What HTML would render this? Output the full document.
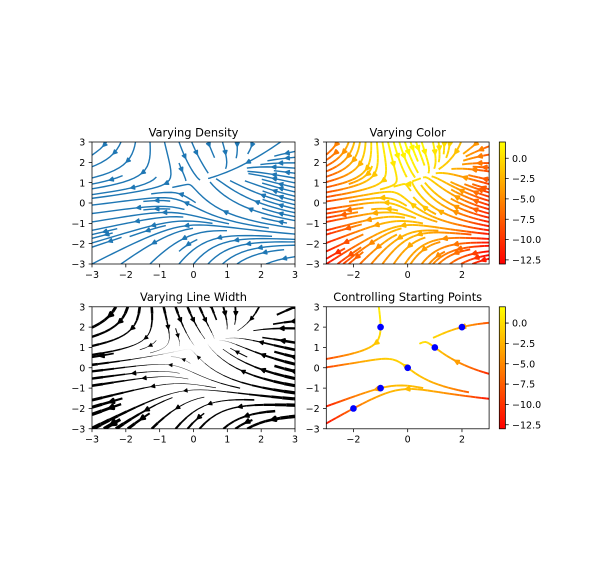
<!DOCTYPE html>
<html><head><meta charset="utf-8"><style>
html,body{margin:0;padding:0;background:#fff;}
svg{display:block;}
text{font-family:"DejaVu Sans","Liberation Sans",sans-serif;fill:#000;}
.t{font-size:9.5px;}
.ti{font-size:11.4px;}
</style></head><body>
<svg id="s" width="600" height="568" viewBox="0 0 600 568" xmlns="http://www.w3.org/2000/svg">
<defs>
<clipPath id="c0"><rect x="92" y="142" width="203" height="122"/></clipPath>
<clipPath id="c1"><rect x="326.3" y="142" width="162.8" height="122"/></clipPath>
<clipPath id="c2"><rect x="92" y="306.8" width="203" height="122"/></clipPath>
<clipPath id="c3"><rect x="326.3" y="306.8" width="162.8" height="122"/></clipPath>
<linearGradient id="g" x1="0" y1="1" x2="0" y2="0"><stop offset="0" stop-color="#ff0000"/><stop offset="1" stop-color="#ffff00"/></linearGradient>
</defs>
<rect x="0" y="0" width="600" height="568" fill="#fff"/>
<g id="content"></g>
<rect x="499.3" y="142" width="6.1" height="122" fill="url(#g)"/>
<rect x="499.3" y="306.8" width="6.1" height="122" fill="url(#g)"/>
<g id="frames"></g>

<!-- titles -->
<text class="ti" x="193.5" y="136.3" text-anchor="middle">Varying Density</text>
<text class="ti" x="407.7" y="136.3" text-anchor="middle">Varying Color</text>
<text class="ti" x="193.5" y="301.1" text-anchor="middle">Varying Line Width</text>
<text class="ti" x="407.7" y="301.1" text-anchor="middle">Controlling Starting Points</text>

<!-- ax0 x labels -->
<g class="t" text-anchor="middle">
<text class="t" x="92" y="277.9">−3</text>
<text class="t" x="125.83" y="277.9">−2</text>
<text class="t" x="159.67" y="277.9">−1</text>
<text class="t" x="193.5" y="277.9">0</text>
<text class="t" x="227.33" y="277.9">1</text>
<text class="t" x="261.17" y="277.9">2</text>
<text class="t" x="295" y="277.9">3</text>
<!-- ax2 x labels -->
<text class="t" x="92" y="442.7">−3</text>
<text class="t" x="125.83" y="442.7">−2</text>
<text class="t" x="159.67" y="442.7">−1</text>
<text class="t" x="193.5" y="442.7">0</text>
<text class="t" x="227.33" y="442.7">1</text>
<text class="t" x="261.17" y="442.7">2</text>
<text class="t" x="295" y="442.7">3</text>
<!-- ax1 / ax3 x labels -->
<text class="t" x="353.43" y="277.9">−2</text>
<text class="t" x="407.7" y="277.9">0</text>
<text class="t" x="461.97" y="277.9">2</text>
<text class="t" x="353.43" y="442.7">−2</text>
<text class="t" x="407.7" y="442.7">0</text>
<text class="t" x="461.97" y="442.7">2</text>
</g>

<!-- y labels -->
<g class="t" text-anchor="end">
<text class="t" x="85.35" y="145.6">3</text>
<text class="t" x="85.35" y="165.93">2</text>
<text class="t" x="85.35" y="186.27">1</text>
<text class="t" x="85.35" y="206.6">0</text>
<text class="t" x="85.35" y="226.93">−1</text>
<text class="t" x="85.35" y="247.27">−2</text>
<text class="t" x="85.35" y="267.6">−3</text>

<text class="t" x="319.65" y="145.6">3</text>
<text class="t" x="319.65" y="165.93">2</text>
<text class="t" x="319.65" y="186.27">1</text>
<text class="t" x="319.65" y="206.6">0</text>
<text class="t" x="319.65" y="226.93">−1</text>
<text class="t" x="319.65" y="247.27">−2</text>
<text class="t" x="319.65" y="267.6">−3</text>

<text class="t" x="85.35" y="310.4">3</text>
<text class="t" x="85.35" y="330.73">2</text>
<text class="t" x="85.35" y="351.07">1</text>
<text class="t" x="85.35" y="371.4">0</text>
<text class="t" x="85.35" y="391.73">−1</text>
<text class="t" x="85.35" y="412.07">−2</text>
<text class="t" x="85.35" y="432.4">−3</text>

<text class="t" x="319.65" y="310.4">3</text>
<text class="t" x="319.65" y="330.73">2</text>
<text class="t" x="319.65" y="351.07">1</text>
<text class="t" x="319.65" y="371.4">0</text>
<text class="t" x="319.65" y="391.73">−1</text>
<text class="t" x="319.65" y="412.07">−2</text>
<text class="t" x="319.65" y="432.4">−3</text>
</g>

<!-- colorbar labels -->
<g class="t" text-anchor="start">
<text class="t" x="512.05" y="161.86">0.0</text>
<text class="t" x="512.05" y="182.19">−2.5</text>
<text class="t" x="512.05" y="202.53">−5.0</text>
<text class="t" x="512.05" y="222.86">−7.5</text>
<text class="t" x="512.05" y="243.2">−10.0</text>
<text class="t" x="512.05" y="263.53">−12.5</text>

<text class="t" x="512.05" y="326.66">0.0</text>
<text class="t" x="512.05" y="346.99">−2.5</text>
<text class="t" x="512.05" y="367.33">−5.0</text>
<text class="t" x="512.05" y="387.66">−7.5</text>
<text class="t" x="512.05" y="408.0">−10.0</text>
<text class="t" x="512.05" y="428.33">−12.5</text>
</g>
</svg>
<script>
(function(){
const k=0.95;
const N=100;
const step=6/99;
const G=new Float64Array(N);
for(let i=0;i<N;i++) G[i]=-3+i*step;
const dx=G[1]-G[0];
const U=new Float64Array(N*N), V=new Float64Array(N*N), SP=new Float64Array(N*N);
let spmax=0, umin=Infinity, umax=-Infinity;
for(let j=0;j<N;j++) for(let i=0;i<N;i++){
  const x=G[i], y=G[j], id=j*N+i;
  U[id]=-1-x*x+y; V[id]=1+x-y*y; SP[id]=Math.sqrt(U[id]*U[id]+V[id]*V[id]);
  if(SP[id]>spmax) spmax=SP[id];
  if(U[id]<umin) umin=U[id]; if(U[id]>umax) umax=U[id];
}
const LW=new Float64Array(N*N);
for(let i=0;i<N*N;i++) LW[i]=5*SP[i]/spmax;

function interp(a,xi,yi){
  const x=Math.trunc(xi), y=Math.trunc(yi);
  const xn = x>=N-1 ? N-1 : x+1;
  const yn = y>=N-1 ? N-1 : y+1;
  const xt=xi-x, yt=yi-y;
  const a0=a[y*N+x]*(1-xt)+a[y*N+xn]*xt;
  const a1=a[yn*N+x]*(1-xt)+a[yn*N+xn]*xt;
  return a0*(1-yt)+a1*yt;
}
function pyround(v){
  const f=Math.floor(v); const d=v-f;
  if(d>0.5) return f+1; if(d<0.5) return f;
  return (f%2===0)?f:f+1;
}
function within(x,y){ return x>=0 && x<=N-1 && y>=0 && y<=N-1; }

const xd2g=1/dx;
const ug=new Float64Array(N*N), vg=new Float64Array(N*N), sp=new Float64Array(N*N);
for(let i=0;i<N*N;i++){
  ug[i]=U[i]*xd2g; vg[i]=V[i]*xd2g;
  const ua=ug[i]/(N-1), va=vg[i]/(N-1);
  sp[i]=Math.sqrt(ua*ua+va*va);
}

function streamplot(mnx,mny,starts){
  const mask=new Uint8Array(mnx*mny);
  const xg2m=(mnx-1)/(N-1), yg2m=(mny-1)/(N-1);
  const xm2g=1/xg2m, ym2g=1/yg2m;
  let cur=null, traj=[];
  function g2m(x,y){ return [pyround(x*xg2m), pyround(y*yg2m)]; }
  function maskUpdate(xm,ym){
    if(!(cur && cur[0]===xm && cur[1]===ym)){
      const idx=ym*mnx+xm;
      if(mask[idx]===0){ traj.push(idx); mask[idx]=1; cur=[xm,ym]; }
      else return false;
    }
    return true;
  }
  function f(xi,yi,sign){
    if(!within(xi,yi)) return null;
    const s=interp(sp,xi,yi);
    if(s===0) return 0;
    const dt=1/s;
    return [sign*interp(ug,xi,yi)*dt, sign*interp(vg,xi,yi)*dt];
  }
  function euler(pts,sign){
    const p=pts[pts.length-1]; const xi=p[0], yi=p[1];
    const c=f(xi,yi,sign); if(!c) return 0;
    const cx=c[0], cy=c[1];
    let dsx, dsy;
    if(cx===0) dsx=Infinity; else if(cx<0) dsx=xi/-cx; else dsx=(N-1-xi)/cx;
    if(cy===0) dsy=Infinity; else if(cy<0) dsy=yi/-cy; else dsy=(N-1-yi)/cy;
    const d=Math.min(dsx,dsy);
    pts.push([xi+cx*d, yi+cy*d]);
    return d;
  }
  function rk12(x0,y0,sign,maxlength){
    const maxerror=0.003, maxds=Math.min(1/mnx,1/mny,0.1);
    let ds=maxds, stotal=0, xi=x0, yi=y0; const pts=[];
    while(true){
      if(within(xi,yi)) pts.push([xi,yi]);
      else { if(pts.length) stotal+=euler(pts,sign); break; }
      const k1=f(xi,yi,sign);
      if(k1===null){ if(pts.length) stotal+=euler(pts,sign); break; }
      if(k1===0) break;
      const k2=f(xi+ds*k1[0], yi+ds*k1[1], sign);
      if(k2===null){ stotal+=euler(pts,sign); break; }
      if(k2===0) break;
      const dx1=ds*k1[0], dy1=ds*k1[1];
      const dx2=ds*0.5*(k1[0]+k2[0]), dy2=ds*0.5*(k1[1]+k2[1]);
      const ex=(dx2-dx1)/(N-1), ey=(dy2-dy1)/(N-1);
      const err=Math.sqrt(ex*ex+ey*ey);
      if(err<maxerror){
        xi+=dx2; yi+=dy2;
        if(!within(xi,yi)) break;
        const m=g2m(xi,yi);
        if(!maskUpdate(m[0],m[1])) break;
        if(stotal+ds>maxlength) break;
        stotal+=ds;
      }
      ds = err===0 ? maxds : Math.min(maxds, 0.85*ds*Math.sqrt(maxerror/err));
    }
    return [stotal,pts];
  }
  function integrate(x0,y0){
    traj=[];
    const m=g2m(x0,y0);
    if(!maskUpdate(m[0],m[1])) return null;
    let stotal=0;
    const r1=rk12(x0,y0,-1,2.0); stotal+=r1[0];
    let out=r1[1].slice().reverse();
    cur=g2m(x0,y0);
    const r2=rk12(x0,y0,1,2.0); stotal+=r2[0];
    out=out.concat(r2[1].slice(1));
    if(stotal>0.1) return out;
    for(const idx of traj) mask[idx]=0;
    return null;
  }
  const res=[];
  if(!starts){
    let xfirst=0,yfirst=1,xlast=mnx-1,ylast=mny-1,x=0,y=0,dir=0;
    for(let i=0;i<mnx*mny;i++){
      if(mask[y*mnx+x]===0){
        const t=integrate(x*xm2g, y*ym2g);
        if(t) res.push(t);
      }
      if(dir===0){ x++; if(x>=xlast){ xlast--; dir=1; } }
      else if(dir===1){ y++; if(y>=ylast){ ylast--; dir=2; } }
      else if(dir===2){ x--; if(x<=xfirst){ xfirst++; dir=3; } }
      else { y--; if(y<=yfirst){ yfirst++; dir=0; } }
    }
  } else {
    for(const s of starts){
      let xg=(s[0]+3)*xd2g, yg=(s[1]+3)*xd2g;
      xg=Math.min(Math.max(xg,0),N-1); yg=Math.min(Math.max(yg,0),N-1);
      const t=integrate(xg,yg);
      if(t) res.push(t);
    }
  }
  return res;
}

const AX=[
 {L:92,T:142,W:203,H:122},
 {L:326.3,T:142,W:162.8,H:122},
 {L:92,T:306.8,W:203,H:122},
 {L:326.3,T:306.8,W:162.8,H:122}];
function PX(a,x){ return a.L+(x+3)/6*a.W; }
function PY(a,y){ return a.T+(3-y)/6*a.H; }
function f2(v){ return v.toFixed(2); }

function cmap(v){
  const t=(v-umin)/(umax-umin);
  let idx=Math.floor(t*256); if(idx<0) idx=0; if(idx>255) idx=255;
  return 'rgb(255,'+idx+',0)';
}

function arrowMid(tx,ty){
  const s=[]; let acc=0;
  for(let i=0;i<tx.length-1;i++){ acc+=Math.hypot(tx[i+1]-tx[i], ty[i+1]-ty[i]); s.push(acc); }
  const half=s[s.length-1]/2;
  let n=0; while(n<s.length && s[n]<half) n++;
  if(n>tx.length-2) n=tx.length-2;
  return n;
}
function arrow(a,tx,ty,n,color,lwpx){
  const x0=PX(a,tx[n]), y0=PY(a,ty[n]);
  const x1=PX(a,(tx[n]+tx[n+1])/2), y1=PY(a,(ty[n]+ty[n+1])/2);
  let ddx=x1-x0, ddy=y1-y0; let d=Math.hypot(ddx,ddy); if(d===0) d=1;
  ddx/=d; ddy/=d;
  const hl=4*k, hw=2*k; const sin_t=hw/Math.hypot(hl,hw);
  const pad=0.5*lwpx/sin_t;
  const tx_=x1-ddx*pad, ty_=y1-ddy*pad;
  const bx=tx_-ddx*hl, by=ty_-ddy*hl;
  const p1x=bx-ddy*hw, p1y=by+ddx*hw, p2x=bx+ddy*hw, p2y=by-ddx*hw;
  return '<path d="M'+f2(p1x)+' '+f2(p1y)+'L'+f2(tx_)+' '+f2(ty_)+'L'+f2(p2x)+' '+f2(p2y)+'Z" fill="'+color+'" stroke="'+color+'" stroke-width="'+f2(lwpx)+'" stroke-linejoin="round"/>';
}

function toData(t){
  const tx=t.map(p=>p[0]/xd2g-3), ty=t.map(p=>p[1]/xd2g-3);
  return [tx,ty];
}

let html='';
// ax0
{
  const a=AX[0]; const trs=streamplot(15,30,null);
  let lines='', arrs='';
  for(const t of trs){
    const [tx,ty]=toData(t);
    let pts=''; for(let i=0;i<tx.length;i++) pts+=f2(PX(a,tx[i]))+','+f2(PY(a,ty[i]))+' ';
    lines+='<polyline points="'+pts+'" fill="none" stroke="#1f77b4" stroke-width="'+f2(1.5*k)+'" stroke-linejoin="round"/>';
    const n=arrowMid(tx,ty);
    arrs+=arrow(a,tx,ty,n,'#1f77b4',1.5*k);
  }
  html+='<g clip-path="url(#c0)">'+lines+arrs+'</g>';
}
// multicolor
function multicolor(ai,starts,clip){
  const a=AX[ai]; const trs=streamplot(30,30,starts);
  let lines='', arrs='';
  for(const t of trs){
    const [tx,ty]=toData(t);
    const cols=[]; for(let i=0;i<t.length-1;i++) cols.push(cmap(interp(U,t[i][0],t[i][1])));
    let i=0;
    while(i<cols.length){
      let j=i; while(j+1<cols.length && cols[j+1]===cols[i]) j++;
      let pts=''; for(let q=i;q<=j+1;q++) pts+=f2(PX(a,tx[q]))+','+f2(PY(a,ty[q]))+' ';
      lines+='<polyline points="'+pts+'" fill="none" stroke="'+cols[i]+'" stroke-width="'+f2(2*k)+'" stroke-linejoin="round"/>';
      i=j+1;
    }
    const n=arrowMid(tx,ty);
    arrs+=arrow(a,tx,ty,n,cols[n],2*k);
  }
  let extra='';
  if(starts){
    for(const s of starts){
      extra+='<circle cx="'+f2(PX(a,s[0]))+'" cy="'+f2(PY(a,s[1]))+'" r="'+f2(3*k)+'" fill="#0000ff" stroke="#0000ff" stroke-width="'+f2(1*k)+'"/>';
    }
  }
  html+='<g clip-path="url(#'+clip+')">'+lines+arrs+extra+'</g>';
}
multicolor(1,null,'c1');
// ax2 varying width
{
  const a=AX[2]; const trs=streamplot(18,18,null);
  let lines='', arrs='';
  for(const t of trs){
    const [tx,ty]=toData(t);
    const lws=[]; for(let i=0;i<t.length-1;i++) lws.push(interp(LW,t[i][0],t[i][1]));
    for(let i=0;i<lws.length;i++){
      lines+='<line x1="'+f2(PX(a,tx[i]))+'" y1="'+f2(PY(a,ty[i]))+'" x2="'+f2(PX(a,tx[i+1]))+'" y2="'+f2(PY(a,ty[i+1]))+'" stroke-width="'+f2(lws[i]*k)+'"/>';
    }
    const n=arrowMid(tx,ty);
    arrs+=arrow(a,tx,ty,n,'#000000',lws[n]*k);
  }
  html+='<g clip-path="url(#c2)"><g stroke="#000" stroke-linecap="butt">'+lines+'</g>'+arrs+'</g>';
}
multicolor(3,[[-2,-2],[-1,-1],[0,0],[1,1],[2,2],[-1,2]],'c3');
document.getElementById('content').innerHTML=html;

// frames and ticks
let fr='';
const sw=f2(0.8*k), tl=3.5*k;
for(let ai=0;ai<4;ai++){
  const a=AX[ai];
  fr+='<rect x="'+a.L+'" y="'+a.T+'" width="'+a.W+'" height="'+a.H+'" fill="none" stroke="#000" stroke-width="'+sw+'"/>';
  const xt = (ai%2===0)?[-3,-2,-1,0,1,2,3]:[-2,0,2];
  let d='';
  for(const x of xt){ const X=PX(a,x); d+='M'+f2(X)+' '+f2(a.T+a.H)+'v'+f2(tl); }
  for(const y of [-3,-2,-1,0,1,2,3]){ const Y=PY(a,y); d+='M'+f2(a.L)+' '+f2(Y)+'h'+f2(-tl); }
  fr+='<path d="'+d+'" stroke="#000" stroke-width="'+sw+'" fill="none"/>';
}
for(const T of [142,306.8]){
  const B=T+122, cx=499.3, cw=6.1;
  fr+='<rect x="'+cx+'" y="'+T+'" width="'+cw+'" height="122" fill="none" stroke="#000" stroke-width="'+sw+'"/>';
  let d='';
  for(const v of [0,-2.5,-5,-7.5,-10,-12.5]){
    const Y=B-(v-umin)/(umax-umin)*122;
    d+='M'+f2(cx+cw)+' '+f2(Y)+'h'+f2(tl);
  }
  fr+='<path d="'+d+'" stroke="#000" stroke-width="'+sw+'" fill="none"/>';
}
document.getElementById('frames').innerHTML=fr;
})();
</script>
</body></html>
